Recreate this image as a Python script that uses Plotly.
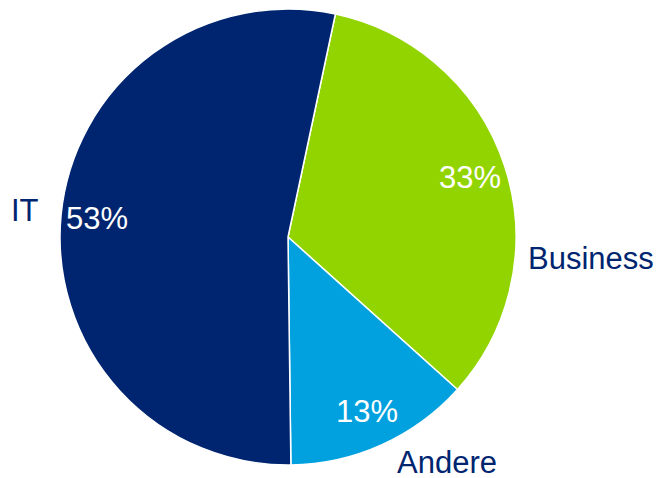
import math
import plotly.graph_objects as go

# Data
categories = ["Business", "Andere", "IT"]
values = [33, 13, 53]
pct_labels = ["33%", "13%", "53%"]
colors = ["#92D400", "#00A1DE", "#002570"]

# page body has an 8px margin; compensate so the visible picture matches
OFF = 8
W, H = 661 - OFF, 478 - OFF
CX, CY, R = 288 - OFF, 237 - OFF, 228
ROT = 12
FONT = "Liberation Sans, Arial"
FS = 31

fig = go.Figure(go.Pie(
    labels=categories,
    values=values,
    sort=False,
    direction="clockwise",
    rotation=ROT,
    textinfo="none",
    hoverinfo="label+percent",
    marker=dict(colors=colors, line=dict(color="white", width=1.5)),
    domain=dict(x=[(CX - R) / W, (CX + R) / W], y=[(H - CY - R) / H, (H - CY + R) / H]),
    showlegend=False,
))

annotations = []
total = sum(values)
start = ROT
for v, t in zip(values, pct_labels):
    span = v / total * 360
    mid = math.radians(start + span / 2)
    start += span
    rr = 0.84 * R
    px = CX + rr * math.sin(mid)
    py = CY - rr * math.cos(mid)
    annotations.append(dict(x=px / W, y=1 - py / H, xref="paper", yref="paper",
                            text=t, showarrow=False, xanchor="center", yanchor="middle",
                            font=dict(color="white", size=FS, family=FONT)))

cat_pos = {"IT": (25, 210), "Business": (591, 258), "Andere": (447, 462)}
for name in categories:
    px, py = cat_pos[name]
    px -= OFF
    py -= OFF
    annotations.append(dict(x=px / W, y=1 - py / H, xref="paper", yref="paper",
                            text=name, showarrow=False, xanchor="center", yanchor="middle",
                            font=dict(color="#002570", size=FS, family=FONT)))

fig.update_layout(
    width=W, height=H,
    margin=dict(l=0, r=0, t=0, b=0),
    paper_bgcolor="white",
    plot_bgcolor="white",
    annotations=annotations,
)

fig.write_html("out.html")
